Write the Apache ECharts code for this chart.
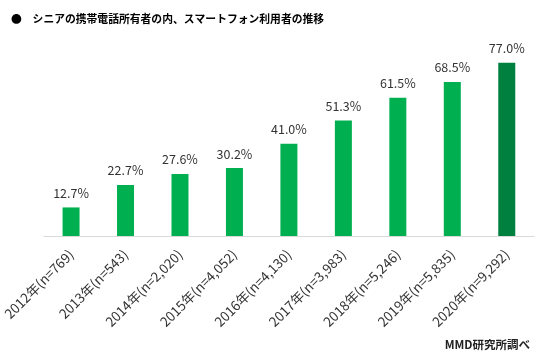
<!DOCTYPE html>
<html><head><meta charset="utf-8">
<script src="https://cdn.jsdelivr.net/npm/echarts@6/dist/echarts.min.js"></script>
<style>html,body{margin:0;padding:0;background:#fff}#c{width:548px;height:359px}</style>
</head><body><div id="c"></div>
<script>
var categories = ['2012年(n=769)','2013年(n=543)','2014年(n=2,020)','2015年(n=4,052)','2016年(n=4,130)','2017年(n=3,983)','2018年(n=5,246)','2019年(n=5,835)','2020年(n=9,292)'];
var values = [12.7, 22.7, 27.6, 30.2, 41.0, 51.3, 61.5, 68.5, 77.0];
var titleText = '●　シニアの携帯電話所有者の内、スマートフォン利用者の推移';
var sourceText = 'MMD研究所調べ';

var chart = echarts.init(document.getElementById('c'));
var font = '"Noto Sans CJK JP", sans-serif';
chart.setOption({
  animation: false,
  textStyle: {fontFamily: font},
  title: [
    {text: titleText, left: 6, top: 9, textStyle: {fontSize: 10.8, fontWeight: 'bold', color: '#000', fontFamily: font}},
    {text: sourceText, right: 13, top: 334, textStyle: {fontSize: 11.5, fontWeight: 'bold', color: '#222', fontFamily: font}}
  ],
  grid: {left: 43, right: 14, top: 56, height: 180},
  xAxis: {
    type: 'category', data: categories,
    axisLine: {lineStyle: {color: '#d9d9d9', width: 1}},
    axisTick: {show: false},
    axisLabel: {rotate: 45, color: '#333', fontSize: 13.5, margin: 16, interval: 0, fontFamily: font}
  },
  yAxis: {type: 'value', min: 0, max: 80, show: false, splitLine: {show: false}},
  series: [{
    type: 'bar', barWidth: 17,
    data: values.map(function (v, i) {
      return {value: v, itemStyle: {color: i === values.length - 1 ? '#00803e' : '#00b050'}};
    }),
    label: {show: true, position: 'top', distance: 8, color: '#333', fontSize: 12.5, fontFamily: font,
      formatter: function (p) { return p.value.toFixed(1) + '%'; }}
  }]
});
</script></body></html>
